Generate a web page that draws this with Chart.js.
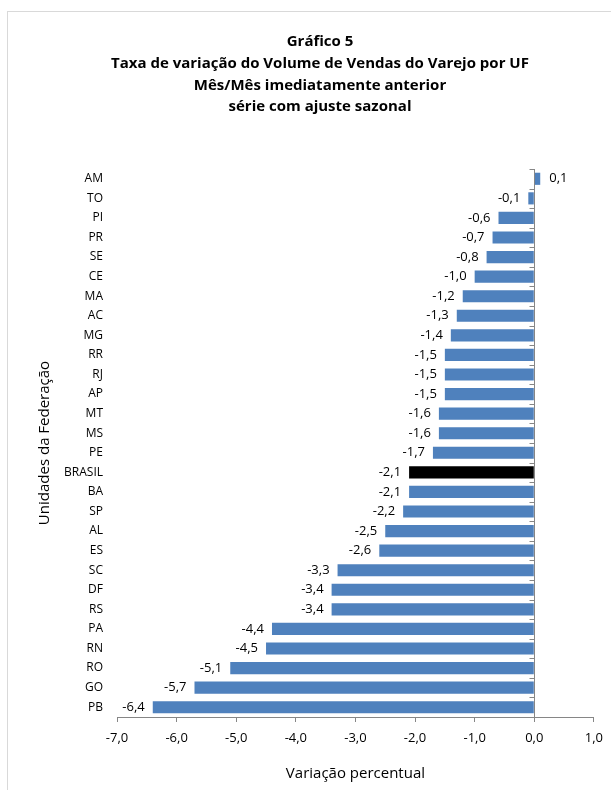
<!DOCTYPE html>
<html>
<head>
<meta charset="utf-8">
<script src="https://cdn.jsdelivr.net/npm/chart.js@4"></script>
<style>
  body { margin: 0; background: #fff; }
  #wrap { width: 611px; height: 790px; }
</style>
</head>
<body>
<div id="wrap"><canvas id="chart"></canvas></div>
<script>
const titleLines = [
  "Gráfico 5",
  "Taxa de variação do Volume de Vendas do Varejo por UF",
  "Mês/Mês imediatamente anterior",
  "série com ajuste sazonal",
];
const states = [
  "AM", "TO", "PI", "PR", "SE", "CE", "MA", "AC", "MG", "RR", "RJ", "AP", "MT", "MS",
  "PE", "BRASIL", "BA", "SP", "AL", "ES", "SC", "DF", "RS", "PA", "RN", "RO", "GO", "PB",
];
const variation = [
  0.1, -0.1, -0.6, -0.7, -0.8, -1.0, -1.2, -1.3, -1.4, -1.5, -1.5, -1.5, -1.6, -1.6,
  -1.7, -2.1, -2.1, -2.2, -2.5, -2.6, -3.3, -3.4, -3.4, -4.4, -4.5, -5.1, -5.7, -6.4,
];
const xTicks = [-7, -6, -5, -4, -3, -2, -1, 0, 1];

const FONT = "'Open Sans', 'Noto Sans', sans-serif";
const fmt = (v) => v.toFixed(1).replace(".", ",");

const frame = {
  id: "frame",
  beforeDraw(chart) {
    const ctx = chart.ctx;
    ctx.save();
    ctx.strokeStyle = "#d9d9d9";
    ctx.lineWidth = 1;
    ctx.strokeRect(7.5, 11.5, 700, 900);
    ctx.restore();
  },
  afterDatasetsDraw(chart) {
    const ctx = chart.ctx;
    const x = chart.scales.x;
    const y = chart.scales.y;
    const zero = Math.round(x.getPixelForValue(0)) + 0.5;
    ctx.save();
    ctx.strokeStyle = "#868686";
    ctx.lineWidth = 1;
    ctx.beginPath();
    ctx.moveTo(zero, chart.chartArea.top);
    ctx.lineTo(zero, chart.chartArea.bottom);
    const step = (y.getPixelForValue(1) - y.getPixelForValue(0));
    for (let i = 0; i <= states.length; i++) {
      const py = Math.round(y.getPixelForValue(0) - step / 2 + i * step) + 0.5;
      ctx.moveTo(zero - 5, py);
      ctx.lineTo(zero, py);
    }
    ctx.stroke();

    ctx.fillStyle = "#000";
    ctx.font = "13px " + FONT;
    ctx.textBaseline = "middle";
    chart.getDatasetMeta(0).data.forEach((bar, i) => {
      const v = variation[i];
      if (v < 0) {
        ctx.textAlign = "right";
        ctx.fillText(fmt(v), bar.x - 8, bar.y);
      } else {
        ctx.textAlign = "left";
        ctx.fillText(fmt(v), bar.x + 9, bar.y);
      }
    });
    ctx.restore();
  },
};

new Chart(document.getElementById("chart"), {
  type: "bar",
  data: {
    labels: states,
    datasets: [
      {
        data: variation,
        backgroundColor: states.map((s) => (s === "BRASIL" ? "#000000" : "#4f81bd")),
        categoryPercentage: 1,
        barPercentage: 0.62,
      },
    ],
  },
  options: {
    indexAxis: "y",
    responsive: true,
    maintainAspectRatio: false,
    animation: false,
    layout: { padding: { top: 31, right: 13, left: 42, bottom: 0 } },
    plugins: {
      legend: { display: false },
      tooltip: { enabled: false },
      title: {
        display: true,
        text: titleLines,
        color: "#000",
        font: { family: FONT, size: 15, weight: "bold", lineHeight: 1.45 },
        padding: { top: 0, bottom: 51 },
      },
    },
    scales: {
      x: {
        min: -7,
        max: 1,
        afterBuildTicks: (s) => {
          s.ticks = xTicks.map((v) => ({ value: v }));
        },
        afterFit: (s) => {
          s.height = 73;
        },
        grid: {
          drawOnChartArea: false,
          drawTicks: true,
          tickLength: 5,
          tickColor: "#868686",
        },
        border: { color: "#868686" },
        ticks: {
          color: "#000",
          font: { family: FONT, size: 13 },
          padding: 8,
          callback: (v) => fmt(v),
        },
        title: {
          display: true,
          text: "Variação percentual",
          color: "#000",
          font: { family: FONT, size: 15 },
          padding: { bottom: 7 },
        },
      },
      y: {
        afterFit: (s) => {
          s.width = 75;
        },
        grid: { display: false },
        border: { display: false },
        ticks: {
          color: "#000",
          font: { family: FONT, size: 12 },
          padding: 6,
          autoSkip: false,
        },
        title: {
          display: true,
          text: "Unidades da Federação",
          color: "#000",
          font: { family: FONT, size: 15 },
          padding: { top: -6 },
        },
      },
    },
  },
  plugins: [frame],
});
</script>
</body>
</html>
